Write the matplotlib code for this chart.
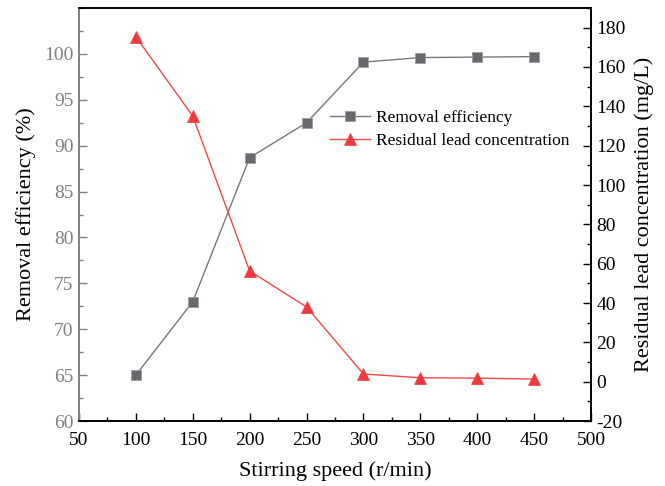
import numpy as np
import matplotlib
matplotlib.use("Agg")
import matplotlib.pyplot as plt
from matplotlib.ticker import MultipleLocator

# dados
speed = [100, 150, 200, 250, 300, 350, 400, 450]
efficiency = [65.0, 73.0, 88.7, 92.5, 99.1, 99.6, 99.65, 99.7]
residual = [175.4, 135.0, 56.3, 38.0, 3.9, 2.0, 1.8, 1.3]

plt.rcParams['font.family'] = ['Liberation Serif', 'DejaVu Serif']
plt.rcParams['mathtext.fontset'] = 'stix'
plt.rcParams['axes.unicode_minus'] = False

fig = plt.figure(figsize=(6.65, 4.86), dpi=100)
ax = fig.add_axes([79 / 665, 1 - 421 / 486, (591 - 79) / 665, (421 - 8) / 486])
ax2 = ax.twinx()

grey = '#808080'
l1, = ax.plot(speed, efficiency, color='#777777', lw=1.0, marker='s', ms=6.5,
              mfc='#68686e', mec='#9a9aa0', mew=0.6, label='Removal efficiency')
l2, = ax2.plot(speed, residual, color='#f04848', lw=1.0, marker='^', ms=9,
               mfc='#ee3a3e', mec='#ee3a3e', mew=0.5, label='Residual lead concentration')

ax.set_xlim(50, 500)
ax.set_ylim(60, 105)
ax2.set_ylim(-20, 190)

ax.xaxis.set_major_locator(MultipleLocator(50))
ax.xaxis.set_minor_locator(MultipleLocator(25))
ax.yaxis.set_minor_locator(MultipleLocator(2.5))
ax2.yaxis.set_minor_locator(MultipleLocator(10))
ax.set_yticks([60, 65, 70, 75, 80, 85, 90, 95, 100])
ax2.set_yticks(np.arange(-20, 181, 20))

for a in (ax, ax2):
    a.tick_params(which='major', direction='in', length=6, width=1.0, labelsize=14, pad=4)
    a.tick_params(which='minor', direction='in', length=3, width=1.0)
ax.tick_params(axis='x', which='both', top=False, pad=8)
ax.tick_params(axis='y', which='both', colors=grey)
ax2.tick_params(axis='y', which='both', colors='black')

for a in (ax, ax2):
    for s in a.spines.values():
        s.set_linewidth(1.2)
ax.spines['left'].set_color(grey)
ax2.spines['left'].set_color(grey)

ax.set_xlabel('Stirring speed (r/min)', fontsize=16, labelpad=9)
ax.set_ylabel('Removal efficiency (%)', fontsize=16, labelpad=6)
ax2.set_ylabel('Residual lead concentration (mg/L)', fontsize=16, labelpad=6)

fig.legend(handles=[l1, l2], loc='upper left', bbox_to_anchor=(330 / 665, 1 - 110 / 486),
           frameon=False, fontsize=12.5, borderpad=0, borderaxespad=0,
           handlelength=2.3, handletextpad=0.35, labelspacing=0.4)

fig.savefig('out.png', dpi=100)
